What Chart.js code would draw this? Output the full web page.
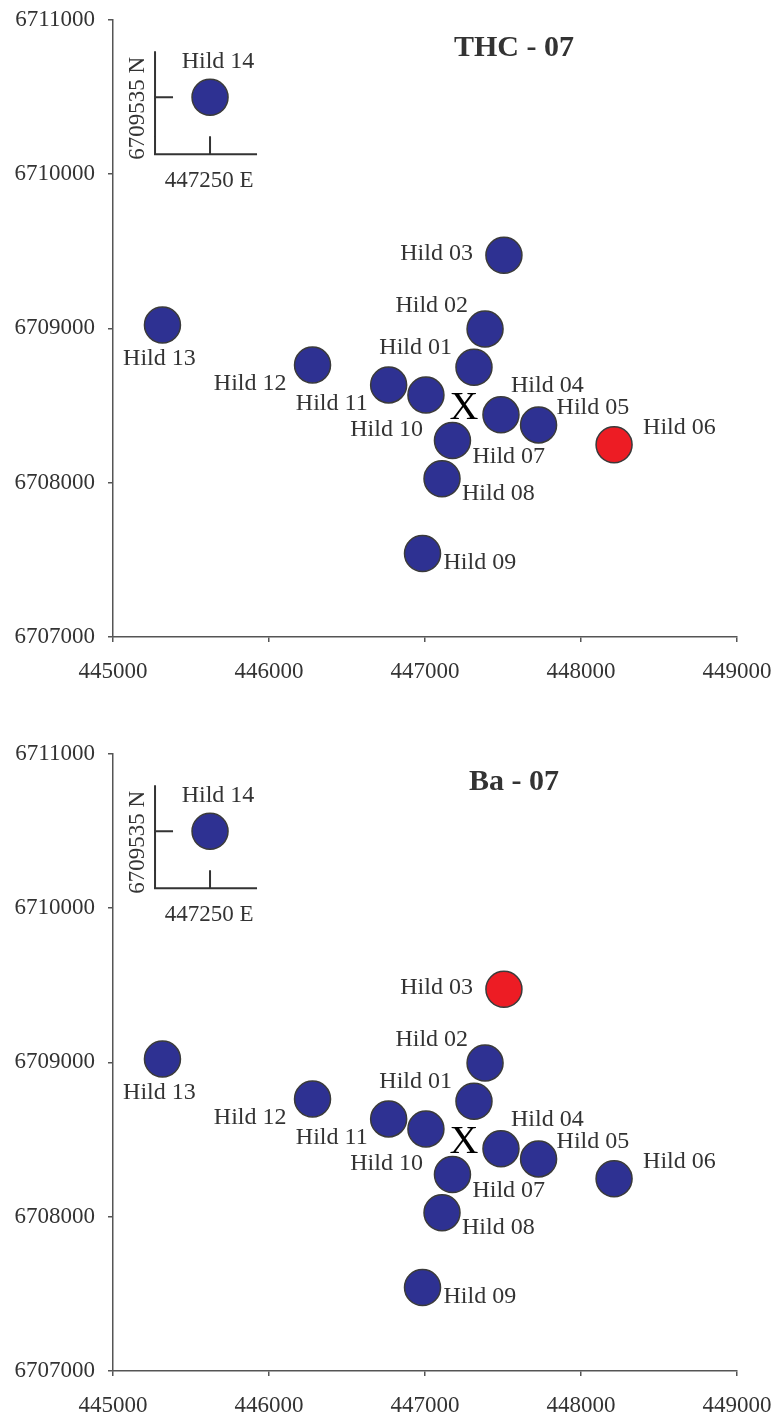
<!DOCTYPE html>
<html>
<head>
<meta charset="utf-8">
<script src="https://cdn.jsdelivr.net/npm/chart.js@4.4.1/dist/chart.umd.min.js"></script>
<style>
    html, body { margin: 0; padding: 0; background: #fff; overflow: hidden; }
    .chart-box { position: absolute; left: 0; width: 776px; }
</style>
</head>
<body>
<div class="chart-box" style="top:0;height:700px"><canvas id="thcChart"></canvas></div>
<div class="chart-box" style="top:734px;height:690px"><canvas id="baChart"></canvas></div>
<script>
        // Station data (UTM east / north)
        const stations = ['Hild 01', 'Hild 02', 'Hild 03', 'Hild 04', 'Hild 05', 'Hild 06', 'Hild 07',
                          'Hild 08', 'Hild 09', 'Hild 10', 'Hild 11', 'Hild 12', 'Hild 13', 'Hild 14'];
        const eastings = [447314, 447385, 447506, 447487, 447728, 448212, 447176,
                          447109, 446984, 447006, 446767, 446279, 445317, 445622];
        const northings = [6708747, 6708995, 6709473, 6708439, 6708374, 6708245, 6708273,
                           6708025, 6707541, 6708568, 6708633, 6708762, 6709021, 6710496];

        // Highlighted station per parameter
        const thcHighlight = ['Hild 06'];
        const baHighlight = ['Hild 03'];

        // Source marker and inset station (Hild 14 true position)
        const sourceEast = 447250;
        const sourceNorth = 6708490;
        const insetStation = 'Hild 14';
        const insetEastLabel = '447250 E';
        const insetNorthLabel = '6709535 N';

        // Axis ticks
        const xTicks = [445000, 446000, 447000, 448000, 449000];
        const yTicks = [6707000, 6708000, 6709000, 6710000, 6711000];

        // Label placement: [dx, dy, align]
        const labelPlace = {
            'Hild 01': [-22, -20, 'right'],
            'Hild 02': [-17, -23, 'right'],
            'Hild 03': [-31, -2, 'right'],
            'Hild 04': [10, -29, 'left'],
            'Hild 05': [18, -17, 'left'],
            'Hild 06': [29, -17, 'left'],
            'Hild 07': [20, 16, 'left'],
            'Hild 08': [20, 15, 'left'],
            'Hild 09': [21, 9, 'left'],
            'Hild 10': [-3, 35, 'right'],
            'Hild 11': [-21, 19, 'right'],
            'Hild 12': [-26, 19, 'right'],
            'Hild 13': [-3, 34, 'center'],
            'Hild 14': [8, -36, 'center']
        };

        const serif = "'Liberation Serif', 'Times New Roman', serif";
        const blue = '#2E3192';
        const red = '#ED1C24';

        // Station labels, X marker, inset axes and title
        const annotate = {
            id: 'annotate',
            afterDatasetsDraw(chart, args, opts) {
                const ctx = chart.ctx;
                const xs = chart.scales.x;
                const ys = chart.scales.y;
                const meta = chart.getDatasetMeta(0);
                ctx.save();

                // station labels
                ctx.font = '24px ' + serif;
                ctx.fillStyle = '#333';
                ctx.textBaseline = 'middle';
                meta.data.forEach((pt, i) => {
                    const p = labelPlace[stations[i]];
                    ctx.textAlign = p[2];
                    ctx.fillText(stations[i], pt.x + p[0], pt.y + p[1]);
                });

                // X marker
                ctx.font = '40px ' + serif;
                ctx.fillStyle = '#000';
                ctx.textAlign = 'center';
                ctx.fillText('X', xs.getPixelForValue(sourceEast), ys.getPixelForValue(sourceNorth) + 2);

                // inset axes around Hild 14
                const ip = meta.data[stations.indexOf(insetStation)];
                const ax = ip.x - 55, ay = ip.y + 57;
                ctx.strokeStyle = '#333';
                ctx.lineWidth = 2;
                ctx.beginPath();
                ctx.moveTo(ax, ip.y - 46);
                ctx.lineTo(ax, ay);
                ctx.lineTo(ip.x + 47, ay);
                ctx.moveTo(ax, ip.y);
                ctx.lineTo(ax + 18, ip.y);
                ctx.moveTo(ip.x, ay);
                ctx.lineTo(ip.x, ay - 18);
                ctx.stroke();

                ctx.font = '23px ' + serif;
                ctx.fillStyle = '#333';
                ctx.fillText(insetEastLabel, ip.x - 1, ay + 27);
                ctx.save();
                ctx.translate(ax - 17, ip.y + 11);
                ctx.rotate(-Math.PI / 2);
                ctx.fillText(insetNorthLabel, 0, 0);
                ctx.restore();

                // title
                ctx.font = 'bold 30px ' + serif;
                ctx.fillStyle = '#333';
                ctx.fillText(opts.text, chart.chartArea.left + 401, chart.chartArea.top + 29);
                ctx.restore();
            }
        };

        // keep tick labels from pushing the plot area around
        function noPad(scale) {
            scale.paddingLeft = 0;
            scale.paddingRight = 0;
            scale.paddingTop = 0;
            scale.paddingBottom = 0;
        }

        function makeChart(canvasId, highlight, title) {
            const colors = stations.map(s => highlight.includes(s) ? red : blue);
            return new Chart(document.getElementById(canvasId), {
                type: 'scatter',
                data: {
                    datasets: [{
                        data: stations.map((s, i) => ({ x: eastings[i], y: northings[i] })),
                        backgroundColor: colors,
                        borderColor: '#3a3a3a',
                        borderWidth: 1.5,
                        pointRadius: 18,
                        pointHoverRadius: 18,
                        clip: false
                    }]
                },
                options: {
                    responsive: true,
                    maintainAspectRatio: false,
                    animation: false,
                    events: [],
                    layout: { padding: { top: 18, right: 39, left: 0, bottom: 0 } },
                    plugins: {
                        legend: { display: false },
                        tooltip: { enabled: false },
                        annotate: { text: title }
                    },
                    scales: {
                        x: {
                            type: 'linear',
                            min: xTicks[0],
                            max: xTicks[xTicks.length - 1],
                            afterBuildTicks: scale => { scale.ticks = xTicks.map(v => ({ value: v })); },
                            afterFit: scale => { scale.height = scale.chart.height - 637; noPad(scale); },
                            ticks: {
                                callback: v => String(v),
                                color: '#333',
                                padding: 16,
                                maxRotation: 0,
                                font: { family: serif, size: 23 }
                            },
                            grid: { drawOnChartArea: false, tickLength: 5, color: '#555', lineWidth: 1.5 },
                            border: { color: '#555', width: 1.5 }
                        },
                        y: {
                            type: 'linear',
                            min: yTicks[0],
                            max: yTicks[yTicks.length - 1],
                            afterBuildTicks: scale => { scale.ticks = yTicks.map(v => ({ value: v })); },
                            afterFit: scale => { scale.width = 113; noPad(scale); },
                            ticks: {
                                callback: v => String(v),
                                color: '#333',
                                padding: 13,
                                font: { family: serif, size: 23 }
                            },
                            grid: { drawOnChartArea: false, tickLength: 5, color: '#555', lineWidth: 1.5 },
                            border: { color: '#555', width: 1.5 }
                        }
                    }
                },
                plugins: [annotate]
            });
        }

        makeChart('thcChart', thcHighlight, 'THC - 07');
        makeChart('baChart', baHighlight, 'Ba - 07');
</script>
</body>
</html>
